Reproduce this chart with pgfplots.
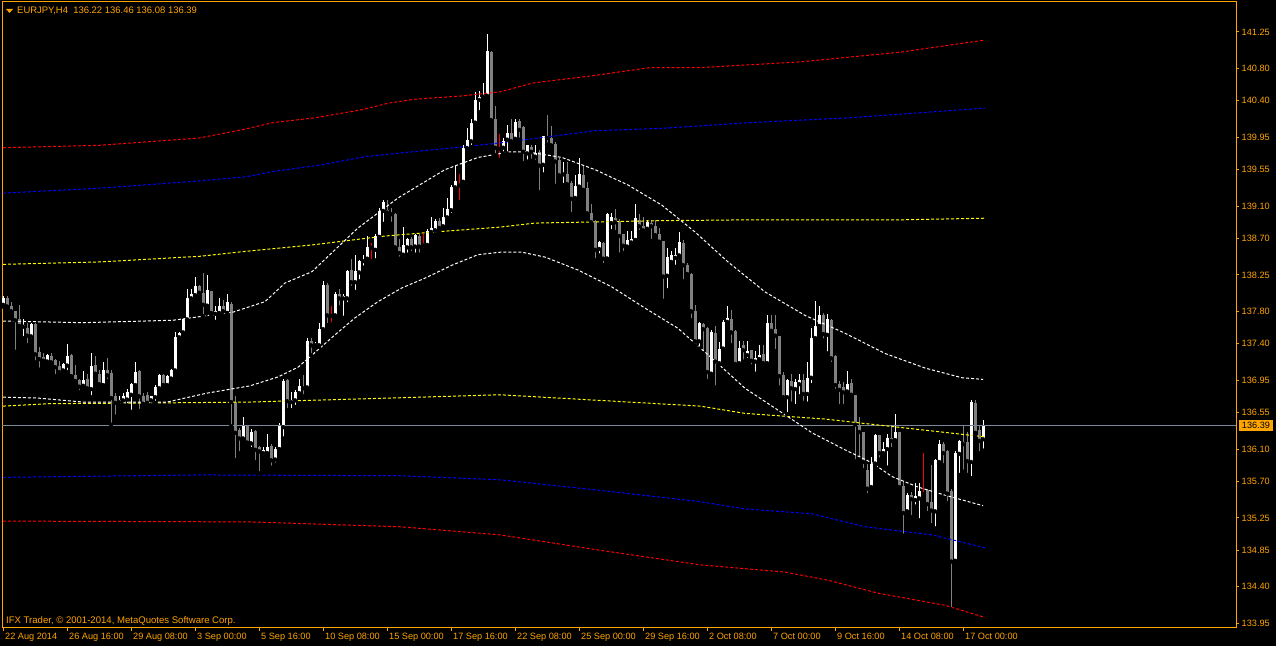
\documentclass[border=0pt]{standalone}
\usepackage{pgfplots}
\pgfplotsset{compat=1.18}
\usepackage{pgfplotstable}
\usepackage{fontspec}
\setmainfont{Liberation Sans}
\definecolor{mtorange}{RGB}{255,165,0}
\definecolor{mtgray}{RGB}{128,128,128}
\definecolor{pline}{RGB}{119,136,153}
\definecolor{mtred}{RGB}{255,0,0}
\definecolor{mtblue}{RGB}{0,0,255}
\definecolor{mtyellow}{RGB}{255,255,0}

\pgfplotstableread{
i o h l c
0 137.88 137.99 137.86 137.96
1 137.96 137.99 137.82 137.86
2 137.87 137.91 137.75 137.80
3 137.80 137.80 137.30 137.69
4 137.70 137.88 137.61 137.62
5 137.61 137.70 137.47 137.63
6 137.60 137.65 137.38 137.50
7 137.49 137.66 137.44 137.64
8 137.64 137.65 137.17 137.27
9 137.30 137.36 137.08 137.21
10 137.24 137.29 137.15 137.19
11 137.18 137.27 137.14 137.26
12 137.25 137.28 137.14 137.17
13 137.20 137.21 137.00 137.11
14 137.13 137.19 137.03 137.05
15 137.07 137.16 137.03 137.15
16 137.13 137.40 137.05 137.25
17 137.26 137.27 136.99 137.00
18 137.01 137.14 136.93 136.94
19 136.95 136.97 136.80 136.87
20 136.88 137.06 136.85 136.95
21 136.97 137.03 136.81 136.85
22 136.84 137.28 136.74 137.13
23 137.14 137.25 136.99 137.03
24 137.03 137.08 136.89 136.90
25 136.89 137.17 136.88 137.07
26 137.07 137.22 136.94 137.01
27 137.04 137.08 136.40 136.73
28 136.75 136.79 136.50 136.67
29 136.68 136.75 136.64 136.70
30 136.70 136.79 136.64 136.75
31 136.71 136.84 136.64 136.80
32 136.77 136.91 136.56 136.90
33 136.89 137.17 136.85 137.05
34 137.06 137.07 136.57 136.75
35 136.75 136.79 136.64 136.66
36 136.77 136.80 136.66 136.67
37 136.70 136.76 136.64 136.75
38 136.74 136.89 136.67 136.86
39 136.85 137.03 136.84 137.02
40 137.01 137.03 136.88 136.89
41 136.89 137.01 136.88 137.00
42 136.97 137.09 136.92 137.08
43 137.07 137.54 137.05 137.48
44 137.48 137.55 137.45 137.53
45 137.54 137.71 137.53 137.70
46 137.70 138.08 137.68 137.96
47 137.96 138.07 137.91 138.01
48 138.00 138.23 137.98 138.11
49 138.11 138.13 138.01 138.03
50 138.03 138.27 137.74 137.88
51 137.87 138.25 137.86 138.06
52 138.05 138.05 137.74 137.78
53 137.77 137.86 137.67 137.81
54 137.78 137.97 137.74 137.87
55 137.86 137.94 137.75 137.80
56 137.78 138.01 137.78 137.91
57 137.89 137.92 136.38 136.68
58 136.68 136.75 135.96 136.30
59 136.33 136.36 136.05 136.23
60 136.23 136.50 136.21 136.39
61 136.38 136.40 136.15 136.18
62 136.17 136.35 136.10 136.31
63 136.32 136.34 135.94 136.09
64 136.12 136.14 135.80 136.07
65 136.05 136.13 136.00 136.09
66 136.05 136.29 136.03 136.13
67 136.14 136.16 135.87 135.96
68 135.97 136.12 135.91 136.10
69 136.10 136.42 136.09 136.40
70 136.37 136.97 136.23 136.94
71 136.95 136.96 136.58 136.69
72 136.68 136.81 136.58 136.70
73 136.70 136.83 136.62 136.81
74 136.79 136.97 136.75 136.88
75 136.87 137.02 136.75 136.85
76 136.86 137.47 136.83 137.43
77 137.43 137.47 137.26 137.38
78 137.38 137.42 137.35 137.40
79 137.38 137.65 137.36 137.58
80 137.58 138.17 137.56 138.13
81 138.12 138.15 137.63 137.75
82 137.75 137.86 137.64 137.75
83 137.75 138.04 137.72 138.01
84 138.01 138.07 137.85 137.96
85 137.96 138.01 137.72 137.99
86 137.96 138.31 137.89 138.30
87 138.31 138.45 138.09 138.16
88 138.16 138.50 138.04 138.30
89 138.28 138.43 138.17 138.42
90 138.42 138.50 138.34 138.44
91 138.45 138.73 138.43 138.59
92 138.59 138.64 138.42 138.59
93 138.56 138.75 138.43 138.73
94 138.72 139.08 138.70 139.04
95 139.04 139.17 138.88 139.15
96 139.05 139.17 138.98 139.02
97 139.02 139.08 138.88 139.00
98 139.00 139.01 138.58 138.59
99 138.60 138.69 138.45 138.52
100 138.50 138.84 138.45 138.62
101 138.59 138.71 138.50 138.69
102 138.69 138.72 138.52 138.59
103 138.60 138.75 138.50 138.74
104 138.73 138.75 138.50 138.60
105 138.62 138.76 138.56 138.62
106 138.62 138.82 138.61 138.79
107 138.78 138.97 138.76 138.83
108 138.80 138.94 138.75 138.91
109 138.91 138.95 138.78 138.83
110 138.85 139.08 138.83 138.96
111 138.96 139.20 138.95 139.06
112 139.05 139.36 138.99 139.33
113 139.33 139.60 139.31 139.41
114 139.36 139.50 139.15 139.36
115 139.40 139.85 139.38 139.82
116 139.81 140.06 139.81 139.92
117 139.90 140.18 139.83 140.13
118 140.13 140.51 140.12 140.41
119 140.41 140.52 140.26 140.45
120 140.45 140.62 140.44 140.47
121 140.46 141.22 140.45 141.02
122 141.00 141.02 140.14 140.16
123 140.18 140.34 139.73 139.82
124 139.81 139.99 139.67 139.81
125 139.82 139.94 139.75 139.90
126 139.92 140.10 139.75 140.00
127 140.00 140.18 139.87 139.90
128 139.93 140.18 139.90 140.14
129 140.15 140.18 139.92 140.04
130 140.08 140.09 139.63 139.77
131 139.75 139.86 139.65 139.85
132 139.83 139.85 139.66 139.77
133 139.71 139.86 139.65 139.76
134 139.77 139.79 139.27 139.60
135 139.61 139.97 139.49 139.96
136 139.95 140.22 139.86 139.94
137 139.94 140.09 139.83 139.85
138 139.87 139.89 139.35 139.65
139 139.67 139.69 139.46 139.48
140 139.49 139.65 139.36 139.50
141 139.50 139.64 139.36 139.37
142 139.39 139.41 139.00 139.19
143 139.20 139.48 139.15 139.35
144 139.34 139.69 139.32 139.49
145 139.48 139.59 139.26 139.30
146 139.32 139.40 139.00 139.01
147 139.01 139.12 138.89 138.90
148 138.91 138.93 138.43 138.56
149 138.57 138.67 138.49 138.66
150 138.65 138.66 138.37 138.45
151 138.45 139.01 138.45 139.00
152 138.89 139.01 138.79 138.96
153 138.95 139.06 138.78 138.90
154 138.92 138.94 138.50 138.73
155 138.75 138.76 138.52 138.61
156 138.60 138.79 138.58 138.68
157 138.65 138.79 138.64 138.69
158 138.68 139.12 138.68 138.95
159 138.93 139.00 138.78 138.85
160 138.86 138.97 138.78 138.80
161 138.82 138.93 138.80 138.90
162 138.89 138.93 138.67 138.85
163 138.86 138.93 138.73 138.74
164 138.75 138.83 138.65 138.66
165 138.67 138.67 137.93 138.23
166 138.24 138.58 138.06 138.47
167 138.41 138.54 138.40 138.49
168 138.46 138.58 138.35 138.49
169 138.49 138.78 138.47 138.66
170 138.65 138.68 138.17 138.37
171 138.37 138.40 138.21 138.26
172 138.26 138.27 137.69 137.80
173 137.80 137.88 137.38 137.43
174 137.43 137.67 137.34 137.65
175 137.64 137.66 137.28 137.58
176 137.60 137.61 136.94 137.05
177 137.03 137.57 137.01 137.55
178 137.53 137.62 136.86 137.18
179 137.16 137.42 137.14 137.33
180 137.34 137.69 137.32 137.67
181 137.67 137.86 137.63 137.72
182 137.71 137.82 137.38 137.54
183 137.56 137.57 137.10 137.15
184 137.16 137.43 137.14 137.35
185 137.38 137.43 137.18 137.32
186 137.26 137.43 137.20 137.31
187 137.32 137.32 137.12 137.19
188 137.18 137.31 137.03 137.22
189 137.21 137.38 137.17 137.26
190 137.27 137.38 137.11 137.16
191 137.16 137.75 137.15 137.65
192 137.66 137.75 137.54 137.56
193 137.58 137.75 137.31 137.50
194 137.50 137.50 136.86 137.00
195 137.01 137.05 136.70 136.74
196 136.74 136.97 136.53 136.95
197 136.94 137.03 136.66 136.85
198 136.84 136.97 136.63 136.93
199 136.90 137.03 136.75 136.95
200 136.95 137.03 136.67 136.78
201 136.78 137.17 136.66 136.98
202 136.98 137.60 136.89 137.47
203 137.47 137.93 137.45 137.62
204 137.62 137.86 137.61 137.75
205 137.75 137.78 137.44 137.52
206 137.51 137.77 137.28 137.71
207 137.69 137.70 137.15 137.22
208 137.25 137.26 136.82 136.89
209 136.90 136.94 136.63 136.83
210 136.86 136.93 136.63 136.80
211 136.81 137.06 136.79 136.90
212 136.91 136.96 136.74 136.77
213 136.77 136.77 135.95 136.40
214 136.40 136.50 135.97 136.31
215 136.31 136.31 135.84 135.94
216 135.84 135.92 135.53 135.61
217 135.63 136.00 135.60 135.92
218 135.92 136.28 135.89 136.27
219 136.27 136.27 135.97 136.05
220 136.05 136.19 136.01 136.10
221 136.10 136.29 135.87 136.23
222 136.23 136.38 136.10 136.20
223 136.21 136.53 136.18 136.31
224 136.31 136.31 135.60 135.63
225 135.64 135.71 135.03 135.31
226 135.33 135.56 135.31 135.53
227 135.53 135.57 135.26 135.48
228 135.47 135.68 135.39 135.52
229 135.49 135.68 135.22 135.58
230 135.55 136.05 135.51 135.55
231 135.59 135.61 135.31 135.42
232 135.45 135.90 135.16 135.34
233 135.33 135.98 135.12 135.96
234 135.94 136.21 135.92 136.16
235 136.16 136.19 135.90 136.05
236 136.07 136.09 135.43 135.55
237 135.58 135.61 134.12 134.71
238 134.72 136.07 134.71 136.05
239 136.04 136.21 135.78 136.20
240 136.19 136.40 135.82 136.16
241 136.19 136.31 135.78 135.95
242 135.94 136.70 135.74 136.68
243 136.67 136.70 136.26 136.30
244 136.33 136.38 136.05 136.20
245 136.22 136.46 136.08 136.39
}\candles

\begin{document}
\begin{tikzpicture}[x=1bp,y=1bp]
\fill[black] (0,0) rectangle (1276,646);
\useasboundingbox (0,0) rectangle (1276,646);
\begin{axis}[
  at={(2bp,18bp)}, anchor=south west, scale only axis,
  width=1234bp, height=626bp,
  xmin=-0.25, xmax=308.25, ymin=133.89, ymax=141.62,
  axis line style={draw=mtorange, line width=1bp},
  tick align=outside, major tick length=3bp,
  major tick style={draw=mtorange, line width=1bp},
  minor tick num=0,
  ytick pos=right, yticklabel pos=right,
  xtick pos=left,
  ytick={133.95,134.40,134.85,135.25,135.70,136.10,136.55,136.95,137.40,137.80,138.25,138.70,139.10,139.55,139.95,140.40,140.80,141.25},
  yticklabels={133.95,134.40,134.85,135.25,135.70,136.10,136.55,136.95,137.40,137.80,138.25,138.70,139.10,139.55,139.95,140.40,140.80,141.25},
  xtick={0,16,32,48,64,80,96,112,128,144,160,176,192,208,224,240},
  xticklabels={22 Aug 2014,26 Aug 16:00,29 Aug 08:00,3 Sep 00:00,5 Sep 16:00,10 Sep 08:00,15 Sep 00:00,17 Sep 16:00,22 Sep 08:00,25 Sep 00:00,29 Sep 16:00,2 Oct 08:00,7 Oct 00:00,9 Oct 16:00,14 Oct 08:00,17 Oct 00:00},
  yticklabel style={font=\fontsize{9.2}{10}\selectfont, text=mtorange, anchor=west, inner sep=0pt, xshift=2.5bp},
  xticklabel style={font=\fontsize{9.2}{10}\selectfont, text=mtorange, anchor=north west, inner sep=0pt, xshift=2bp, yshift=-2bp},
]
% wicks
\addplot[only marks, mark=none, restrict expr to domain={\thisrow{c}-\thisrow{o}}{0.001:100},
  error bars/.cd, y dir=plus, y explicit, error mark=none, error bar style={draw=white, line width=1bp}]
  table[x=i, y=l, y error expr=\thisrow{h}-\thisrow{l}] {\candles};
\addplot[only marks, mark=none, restrict expr to domain={\thisrow{c}-\thisrow{o}}{-100:-0.001},
  error bars/.cd, y dir=plus, y explicit, error mark=none, error bar style={draw=mtgray, line width=1bp}]
  table[x=i, y=l, y error expr=\thisrow{h}-\thisrow{l}] {\candles};
\addplot[only marks, mark=none, restrict expr to domain={\thisrow{c}-\thisrow{o}}{-0.0005:0.0005},
  error bars/.cd, y dir=plus, y explicit, error mark=none, error bar style={draw=mtred, line width=1bp}]
  table[x=i, y=l, y error expr=\thisrow{h}-\thisrow{l}] {\candles};
% bodies
\addplot[only marks, mark=none, restrict expr to domain={\thisrow{c}-\thisrow{o}}{0.001:100},
  error bars/.cd, y dir=plus, y explicit, error mark=none, error bar style={draw=white, line width=3bp}]
  table[x=i, y=o, y error expr=\thisrow{c}-\thisrow{o}] {\candles};
\addplot[only marks, mark=none, restrict expr to domain={\thisrow{c}-\thisrow{o}}{-100:-0.001},
  error bars/.cd, y dir=plus, y explicit, error mark=none, error bar style={draw=mtgray, line width=3bp}]
  table[x=i, y=c, y error expr=\thisrow{o}-\thisrow{c}] {\candles};
\addplot[only marks, mark=none, restrict expr to domain={\thisrow{c}-\thisrow{o}}{-0.0005:0.0005},
  error bars/.cd, y dir=plus, y explicit, error mark=none, error bar style={draw=mtred, line width=3bp}]
  table[x=i, y expr=\thisrow{o}-0.006, y error expr=0.012] {\candles};
% current price line
\addplot[pline, line width=1bp] coordinates {(-0.25,136.39) (308.25,136.39)};
% bands
\pgfplotsset{band/.style={line width=1bp, dash pattern=on 3bp off 2bp}}
\addplot[band, mtred] coordinates {(0,139.82) (24,139.85) (49,139.94) (60.5,140.05) (67.5,140.13) (78,140.19) (89.75,140.29) (96.25,140.37) (103,140.42) (114.75,140.46) (124.25,140.51) (132.5,140.62) (147.5,140.71) (161.75,140.81) (174.25,140.81) (199.25,140.88) (224.25,141.00) (245.5,141.15)};
\addplot[band, mtblue] coordinates {(0,139.26) (24,139.32) (49,139.41) (60.5,139.46) (68,139.53) (79.75,139.61) (90.5,139.71) (102.25,139.77) (114.75,139.83) (124.25,139.88) (138.5,139.97) (148,140.03) (164.75,140.06) (186.75,140.13) (211.75,140.19) (245.5,140.31)};
\addplot[band, mtyellow] coordinates {(0,138.38) (24.25,138.41) (49.25,138.48) (60.5,138.54) (77.25,138.62) (95.5,138.73) (110.5,138.79) (124.25,138.84) (133,138.89) (164.75,138.92) (186.75,138.93) (224.25,138.93) (245.5,138.95)};
\addplot[band, mtyellow] coordinates {(0,136.63) (11.75,136.66) (41,136.67) (61.75,136.68) (97.25,136.73) (124.25,136.77) (149.25,136.70) (174.25,136.63) (185.5,136.54) (205.5,136.47) (225.5,136.36) (245.5,136.25)};
\addplot[band, mtblue] coordinates {(0,135.75) (49.25,135.78) (99.25,135.77) (124.25,135.72) (149.25,135.59) (174.25,135.45) (185.5,135.36) (202.25,135.30) (215.5,135.14) (232.25,135.04) (245.5,134.88)};
\addplot[band, mtred] coordinates {(0,135.21) (61.75,135.20) (99.25,135.14) (124.25,135.04) (149.25,134.85) (174.25,134.67) (195.5,134.58) (206.25,134.48) (218.75,134.32) (235.5,134.17) (245.5,134.02)};
\addplot[band, white] coordinates {(0,137.68) (20,137.66) (42.5,137.69) (57.5,137.79) (65.5,137.92) (70.5,138.15) (77.25,138.29) (88.75,138.83) (98.75,139.20) (110.5,139.55) (118.75,139.70) (126.75,139.77) (131,139.77) (139.75,139.70) (148,139.55) (156.25,139.36) (164.75,139.11) (173,138.78) (181.25,138.41) (190.5,138.04) (200.5,137.75) (210.5,137.53) (220.5,137.28) (230.5,137.10) (239.75,136.98) (245,136.96)};
\addplot[band, white] coordinates {(0,136.74) (8.5,136.73) (20,136.68) (41,136.68) (51,136.79) (61.75,136.88) (68.75,136.99) (73.75,137.11) (77.25,137.26) (83,137.51) (88,137.72) (93.75,137.92) (99.75,138.09) (105.5,138.21) (112.25,138.37) (118.75,138.50) (124.25,138.53) (129.75,138.53) (135.5,138.47) (143.75,138.31) (152.25,138.10) (160.5,137.84) (168.75,137.59) (177.25,137.22) (185.5,136.85) (193.75,136.58) (202.25,136.30) (210.5,136.09) (217.25,135.93) (222.25,135.76) (228.75,135.63) (235.5,135.53) (245,135.40)};
\end{axis}
% title
\fill[mtorange] (6,637) -- (13,637) -- (9.5,633) -- cycle;
\node[anchor=base west, inner sep=0pt, text=mtorange, font=\fontsize{9.5}{11}\selectfont] at (17,632) {EURJPY,H4\ \ 136.22 136.46 136.08 136.39};
\node[anchor=base west, inner sep=0pt, text=mtorange, font=\fontsize{9.6}{11}\selectfont] at (6,22) {IFX Trader, \textcopyright\ 2001-2014, MetaQuotes Software Corp.};
% price label box
\fill[mtorange] (1239,215) rectangle (1273,226);
\node[inner sep=0pt, text=black, font=\fontsize{9.2}{10}\selectfont] at (1256,220.5) {136.39};
\end{tikzpicture}
\end{document}
